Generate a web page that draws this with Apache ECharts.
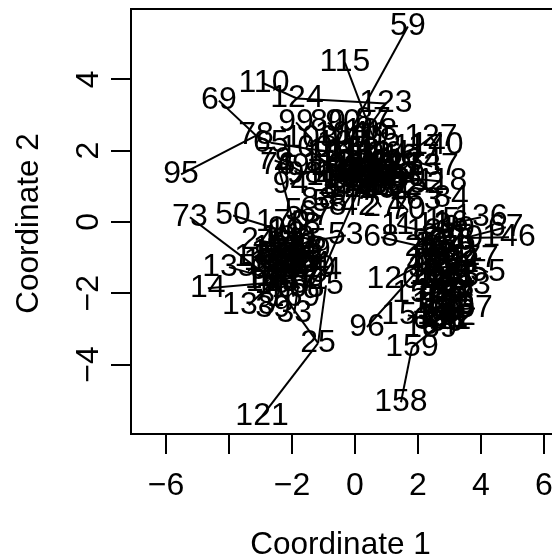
<!DOCTYPE html>
<html><head><meta charset="utf-8">
<style>html,body{margin:0;padding:0;background:#fff}#c{width:552px;height:554px}</style>
<script src="https://cdn.jsdelivr.net/npm/echarts@6/dist/echarts.min.js"></script>
</head><body><div id="c"></div>
<script>
// upper cluster and outliers
const idsA = [59,115,110,124,123,69,95,78,65,99,103,100,101,80,104,90,87,105,107,108,109,111,112,113,106,114,116,117,127,140,119,122,125,126,128,129,131,132,133,134,137,139,141,142,143,144,147,148,149,150,118,152,153,154,155,157,160,161,162,163,84,27,42,70,79,76,49,98,94,88,58,8,199,200,201,202,203,204];
const xA = [1.68,-0.32,-2.89,-1.84,0.98,-4.32,-5.52,-3.14,-2.67,-1.87,-1.4,-1.55,-0.68,-0.86,-0.43,-0.38,0.57,0.6,-0.36,0.5,0.25,-0.15,-0.05,0.34,0.65,0.93,1.18,2.0,2.41,2.6,-0.85,-0.57,-0.29,-0.05,0.2,0.45,0.73,0.97,1.25,1.9,2.45,-0.71,-0.43,-0.19,0.1,0.38,0.62,0.87,1.11,1.39,2.76,2.0,-0.36,-0.08,0.2,0.48,0.76,1.0,1.29,1.9,3.05,0.83,0.1,1.68,-2.55,-2.45,-2.0,-1.6,-2.05,-1.15,-0.8,-0.55,-0.25,0.25,0.6,0.35,-0.1,0.5];
const yA = [5.48,4.47,3.88,3.46,3.32,3.40,1.33,2.42,2.22,2.79,2.35,2.06,1.95,2.79,2.45,2.80,2.84,2.35,2.2,2.55,2.42,1.93,2.0,1.89,1.89,1.94,1.81,2.1,2.37,2.15,1.63,1.55,1.64,1.55,1.66,1.54,1.61,1.51,1.55,1.7,1.55,1.29,1.36,1.25,1.39,1.25,1.33,1.21,1.33,1.25,1.13,1.05,1.03,0.95,1.06,0.94,1.03,0.91,0.99,0.6,0.66,0.41,0.45,0.32,1.72,1.6,1.55,1.35,1.05,0.6,0.55,0.45,1.4,1.4,1.45,1.7,1.2,1.1];
const parentA = [107,108,124,123,109,78,78,65,100,103,100,101,119,104,101,104,105,106,101,105,105,107,111,112,113,106,114,116,117,127,100,119,122,125,126,128,129,131,132,133,134,119,139,141,142,143,144,147,148,149,150,150,139,153,154,155,157,160,161,162,152,157,155,161,49,3,98,119,98,153,153,58,142,143,147,128,142,144];
// left cluster
const idsB = [5,6,7,18,3,10,9,170,50,24,1,2,4,72,75,53,17,81,82,83,85,86,89,91,92,97,102,145,130,74,135,14,165,178,73,25,121,45,166,167,168,169,138,39,33,171,172,173,174,175,176,177,193,194,195,196,197,198];
const xB = [-1.95,-1.5,-1.05,-1.64,-1.85,-2.2,-2.48,-2.3,-3.87,-3.05,-2.55,-2.27,-2.03,-1.75,-1.47,-0.29,-3.27,-2.65,-2.37,-2.1,-1.85,-1.57,-1.33,-2.76,-2.48,-2.23,-1.95,-1.71,-1.47,-1.0,-4.0,-4.67,-2.62,-2.65,-5.24,-1.17,-2.95,-0.92,-2.34,-2.06,-1.81,-1.95,-3.37,-2.6,-1.93,-2.45,-2.17,-1.88,-1.64,-2.69,-2.3,-1.95,-2.4,-2.0,-2.5,-2.3,-1.9,-2.15];
const yB = [0.3,0.25,0.15,-0.1,-0.35,-0.25,-0.2,0.0,0.18,-0.52,-0.6,-0.6,-0.5,-0.65,-0.55,-0.38,-0.99,-0.95,-1.0,-0.9,-1.05,-0.95,-0.8,-1.35,-1.3,-1.4,-1.3,-1.45,-1.3,-1.35,-1.27,-1.86,-1.7,-1.6,0.13,-3.4,-5.45,-1.78,-1.75,-1.7,-1.85,-2.1,-2.34,-2.43,-2.57,-0.85,-1.15,-0.75,-1.2,-1.1,-1.55,-1.6,-0.75,-0.75,-1.15,-1.3,-1.15,-0.45];
const parentB = [6,7,18,3,10,9,1,10,9,1,2,4,3,4,72,75,81,1,81,82,83,85,86,81,91,92,97,102,145,155,178,165,91,165,178,178,25,25,97,166,167,167,165,166,168,82,83,85,145,91,97,102,171,83,92,172,102,2];
// right cluster
const idsC = [11,12,13,15,16,136,19,67,20,146,21,22,23,26,28,68,29,30,31,32,34,77,35,36,38,40,55,41,120,43,96,44,46,47,48,93,156,51,52,54,56,57,60,61,37,62,63,151,64,66,71,189,159,158,164,179,180,181,182,183,184,185,186,187,188,190,191,192];
const xC = [1.35,2.2,2.5,2.77,3.04,4.0,3.25,4.79,3.5,4.89,2.38,2.65,2.92,3.2,2.14,0.83,2.4,2.68,2.95,3.22,3.4,4.0,2.26,2.56,2.83,3.1,4.22,3.3,1.21,2.2,0.38,2.4,2.68,2.95,3.22,3.75,2.03,2.6,2.86,3.1,3.25,2.56,2.8,3.04,3.81,3.22,2.4,1.68,2.65,2.89,3.13,2.41,1.81,1.46,2.7,3.0,2.5,2.8,3.1,2.55,2.85,3.1,2.7,3.0,2.65,2.95,2.75,3.0];
const yC = [-0.1,-0.25,-0.1,0.05,-0.05,0.13,-0.2,-0.15,-0.45,-0.43,-0.55,-0.4,-0.5,-0.55,-0.7,-0.43,-0.95,-0.85,-1.0,-0.9,-1.1,-1.02,-1.3,-1.25,-1.4,-1.3,-1.41,-1.5,-1.61,-1.15,-2.95,-1.65,-1.75,-1.7,-1.85,-1.78,-2.0,-2.1,-2.2,-2.1,-2.3,-2.5,-2.55,-2.45,-2.43,-2.65,-2.75,-2.62,-2.9,-2.8,-2.75,-2.98,-3.52,-5.06,-0.65,-0.75,-1.05,-1.15,-1.15,-1.5,-1.6,-1.55,-1.95,-2.0,-2.3,-2.35,-2.7,-2.65];
const parentC = [70,11,12,13,15,16,16,20,19,20,12,21,22,23,21,28,21,29,30,31,32,34,29,35,36,38,34,40,43,29,43,35,44,46,47,48,44,46,51,52,54,51,57,60,61,61,57,63,63,64,66,64,64,159,22,23,29,31,40,36,38,47,46,52,51,60,60,66];

const xTicks = [-6,-4,-2,0,2,4,6];
const xTickLabels = [-6,-2,0,2,4,6];
const yTicks = [-4,-2,0,2,4];
const xName = 'Coordinate 1';
const yName = 'Coordinate 2';

const ids = idsA.concat(idsB, idsC);
const xs = xA.concat(xB, xC);
const ys = yA.concat(yB, yC);
const parents = parentA.concat(parentB, parentC);

const pos = {};
ids.forEach((id, i) => { pos[id] = [xs[i], ys[i]]; });
const links = ids.map((id, i) => ({ coords: [pos[id], pos[parents[i]]] }));
const pts = ids.map((id, i) => [xs[i], ys[i], id]);

const FONT = '"Liberation Sans", Arial, sans-serif';
const FS = 32;
const fmt = v => (v < 0 ? '\u2212' + (-v) : String(v));

const chart = echarts.init(document.getElementById('c'), null, { renderer: 'canvas' });
chart.setOption({
  animation: false,
  backgroundColor: '#fff',
  grid: { left: 131, top: 9, width: 424, height: 425, show: true, borderColor: '#000', borderWidth: 2, backgroundColor: 'transparent', outerBoundsMode: 'none', containLabel: false },
  xAxis: {
    type: 'value', min: -7.11, max: 6.35,
    axisLine: { show: false, onZero: false }, splitLine: { show: false },
    axisTick: { show: true, length: 20, inside: false, customValues: xTicks, lineStyle: { color: '#000', width: 2 } },
    axisLabel: { customValues: xTickLabels, formatter: fmt, color: '#000', fontFamily: FONT, fontSize: FS, margin: 36, hideOverlap: false },
    name: xName, nameLocation: 'middle', nameGap: 111, nameMoveOverlap: false,
    nameTextStyle: { color: '#000', fontFamily: FONT, fontSize: 31.5, verticalAlign: 'middle', padding: [0,5,0,0] }
  },
  yAxis: {
    type: 'value', min: -5.95, max: 5.97,
    axisLine: { show: false, onZero: false }, splitLine: { show: false },
    axisTick: { show: true, length: 20, inside: false, customValues: yTicks, lineStyle: { color: '#000', width: 2 } },
    axisLabel: { customValues: yTicks, formatter: fmt, rotate: 90, color: '#000', fontFamily: FONT, fontSize: FS, margin: 42, hideOverlap: false, align: 'center', verticalAlign: 'middle' },
    name: yName, nameLocation: 'middle', nameGap: 102, nameRotate: 90, nameMoveOverlap: false,
    nameTextStyle: { color: '#000', fontFamily: FONT, fontSize: 31.5, verticalAlign: 'middle', padding: [0,4,0,0] }
  },
  series: [
    { type: 'lines', coordinateSystem: 'cartesian2d', polyline: false, silent: true, clip: false, z: 3,
      lineStyle: { color: '#000', width: 2, opacity: 1, curveness: 0 }, data: links },
    { type: 'scatter', coordinateSystem: 'cartesian2d', symbolSize: 1, silent: true, z: 4,
      itemStyle: { color: 'transparent' },
      label: { show: true, position: 'inside', offset: [-1, 2], formatter: p => String(p.value[2]), color: '#000', textBorderWidth: 0, textBorderColor: 'transparent', opacity: 1, fontFamily: FONT, fontSize: FS },
      labelLayout: { hideOverlap: false },
      data: pts }
  ]
});
</script></body></html>
